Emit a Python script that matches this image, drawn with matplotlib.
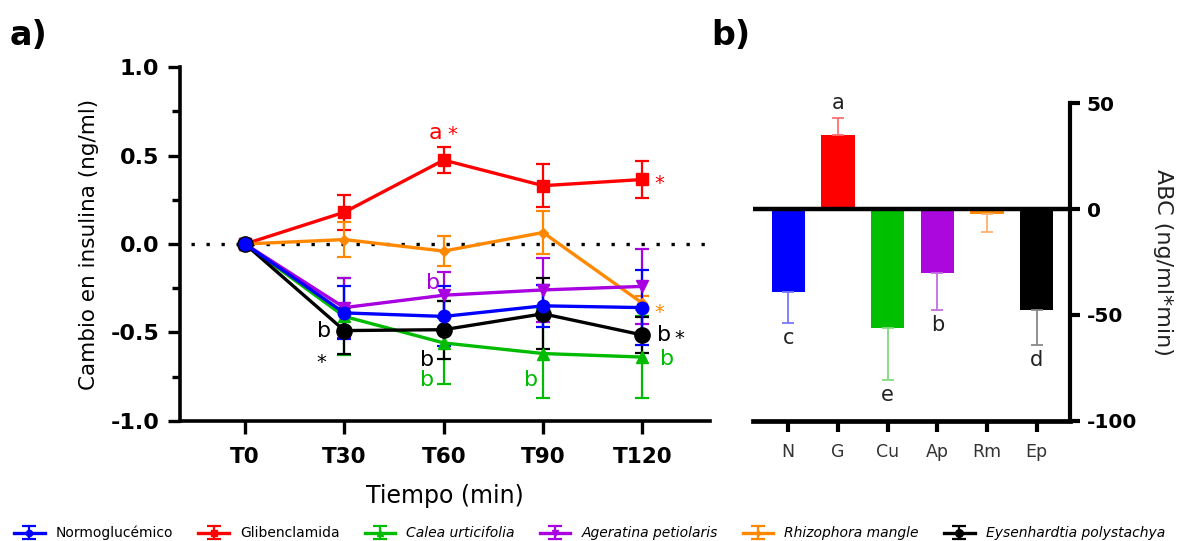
import matplotlib
matplotlib.use("Agg")
import matplotlib.pyplot as plt
from matplotlib.ticker import MultipleLocator

BLUE = "#0000ff"; RED = "#ff0000"; GREEN = "#00bb00"; PURPLE = "#a800e0"
ORANGE = "#ff8800"; BLACK = "#000000"

# ---- panel a data (mean change in insulin, ng/ml; SEM) ----
times = ["T0", "T30", "T60", "T90", "T120"]
normo = [0, -0.39, -0.41, -0.35, -0.36]
normo_se = [0, 0.15, 0.17, 0.12, 0.21]
glib = [0, 0.18, 0.475, 0.33, 0.365]
glib_se = [0, 0.10, 0.075, 0.12, 0.105]
calea = [0, -0.41, -0.56, -0.62, -0.64]
calea_se = [0, 0.22, 0.235, 0.25, 0.23]
ager = [0, -0.36, -0.29, -0.26, -0.24]
ager_se = [0, 0.17, 0.13, 0.18, 0.21]
rhizo = [0, 0.025, -0.04, 0.065, -0.335]
rhizo_se = [0, 0.10, 0.085, 0.12, 0.04]
eysen = [0, -0.49, -0.485, -0.395, -0.515]
eysen_se = [0, 0.13, 0.165, 0.20, 0.10]

# ---- panel b data (area under curve) ----
groups = ["N", "G", "Cu", "Ap", "Rm", "Ep"]
abc = [-39.4, 35.0, -56.1, -30.4, -2.5, -47.6]
abc_err = [14.5, 8.3, 24.7, 17.2, 8.2, 16.7]
abc_letters = ["c", "a", "e", "b", "", "d"]

fig = plt.figure(figsize=(11.79, 5.41), dpi=100)

# ================= panel a =================
ax = fig.add_axes([0.1527, 0.2224, 0.4495, 0.6532])
x = list(range(len(times)))
ax.axhline(0, xmin=0.02, xmax=1, color="black", lw=2.4, ls=(0, (1, 3.5)), zorder=1)

series = [
    ("Glibenclamida", glib, glib_se, RED, "s", 8),
    ("Rhizophora mangle", rhizo, rhizo_se, ORANGE, "D", 5),
    ("Calea urticifolia", calea, calea_se, GREEN, "^", 8),
    ("Ageratina petiolaris", ager, ager_se, PURPLE, "v", 8),
    ("Eysenhardtia polystachya", eysen, eysen_se, BLACK, "o", 11),
    ("Normoglucémico", normo, normo_se, BLUE, "o", 9),
]
handles = {}
for name, y, se, c, m, ms in series:
    h = ax.errorbar(x, y, yerr=se, color=c, marker=m, ms=ms, lw=2.4,
                    elinewidth=1.6, capsize=5, capthick=1.6, zorder=3)
    handles[name] = h

ax.set_xlim(-0.654, 4.68)
ax.set_ylim(-1.0, 1.0)
ax.yaxis.set_minor_locator(MultipleLocator(0.25))
ax.set_yticks([-1.0, -0.5, 0.0, 0.5, 1.0])
ax.set_yticklabels(["-1.0", "-0.5", "0.0", "0.5", "1.0"], fontweight="bold", fontsize=16)
ax.set_xticks(x)
ax.set_xticklabels(times, fontweight="bold", fontsize=15.5)
ax.tick_params(axis="both", which="major", length=9, width=2.4, direction="out", pad=6)
ax.tick_params(axis="y", which="minor", length=6, width=2.4)
ax.tick_params(axis="x", pad=10)
for s in ("top", "right"):
    ax.spines[s].set_visible(False)
for s in ("left", "bottom"):
    ax.spines[s].set_linewidth(2.6)
ax.set_ylabel("Cambio en insulina (ng/ml)", fontsize=15.5, labelpad=8)
ax.set_xlabel("Tiempo (min)", fontsize=17, labelpad=12)

fs = 16
fa = 14
ax.text(1.92, 0.63, "a", color=RED, fontsize=fs, ha="center", va="center")
ax.text(2.09, 0.62, "*", color=RED, fontsize=fa, ha="center", va="center")
ax.text(4.17, 0.34, "*", color=RED, fontsize=fa, ha="center", va="center")
ax.text(4.17, -0.39, "*", color=ORANGE, fontsize=fa, ha="center", va="center")
ax.text(1.89, -0.22, "b", color=PURPLE, fontsize=fs, ha="center", va="center")
ax.text(0.80, -0.495, "b", color=BLACK, fontsize=fs, ha="center", va="center")
ax.text(0.77, -0.67, "*", color=BLACK, fontsize=fa, ha="center", va="center")
ax.text(1.83, -0.655, "b", color=BLACK, fontsize=fs, ha="center", va="center")
ax.text(1.83, -0.77, "b", color=GREEN, fontsize=fs, ha="center", va="center")
ax.text(2.88, -0.77, "b", color=GREEN, fontsize=fs, ha="center", va="center")
ax.text(4.22, -0.515, "b", color=BLACK, fontsize=fs, ha="center", va="center")
ax.text(4.37, -0.535, "*", color=BLACK, fontsize=fa, ha="center", va="center")
ax.text(4.25, -0.65, "b", color=GREEN, fontsize=fs, ha="center", va="center")

# ================= panel b =================
bx = fig.add_axes([0.6387, 0.2224, 0.2689, 0.5866])
bar_cols = [BLUE, RED, "#00bf00", "#aa08dd", ORANGE, BLACK]
err_cols = ["#7777ff", "#ff6f6f", "#80dd80", "#c070e0", "#ffb070", "#888888"]
xb = list(range(len(groups)))
bx.bar(xb, abc, width=0.67, color=bar_cols, zorder=2)
for i in xb:
    lo = [0] if abc[i] > 0 else [abc_err[i]]
    hi = [abc_err[i]] if abc[i] > 0 else [0]
    bx.errorbar([i], [abc[i]], yerr=[lo, hi], fmt="none", ecolor=err_cols[i],
                elinewidth=1.3, capsize=4, capthick=1.3, zorder=3)
    if abc_letters[i]:
        off = 7 if abc[i] > 0 else -7
        ypos = abc[i] + (abc_err[i] if abc[i] > 0 else -abc_err[i]) + off
        bx.text(i, ypos, abc_letters[i], ha="center", va="center",
                fontsize=15, color="#222222")
bx.axhline(0, xmin=0.005, color="black", lw=3.2, zorder=4)
bx.set_xlim(-0.71, 5.67)
bx.set_ylim(-100, 50)
bx.set_yticks([-100, -50, 0, 50])
bx.set_yticklabels(["-100", "-50", "0", "50"], fontweight="bold", fontsize=14.5)
bx.yaxis.tick_right()
bx.yaxis.set_label_position("right")
bx.set_xticks(xb)
bx.set_xticklabels(groups, fontsize=12.5, color="#333333")
bx.tick_params(axis="y", length=7, width=3, pad=5)
bx.tick_params(axis="x", length=8, width=3, pad=8)
for s in ("top", "left"):
    bx.spines[s].set_visible(False)
bx.spines["right"].set_linewidth(3)
bx.spines["bottom"].set_linewidth(3.4)
bx.set_ylabel("ABC (ng/ml*min)", fontsize=16, rotation=270, labelpad=26, color="#222222")

# panel labels
fig.text(0.008, 0.935, "a)", fontsize=24, fontweight="bold", va="center")
fig.text(0.603, 0.935, "b)", fontsize=24, fontweight="bold", va="center")

# legend
order = ["Normoglucémico", "Glibenclamida", "Calea urticifolia",
         "Ageratina petiolaris", "Rhizophora mangle", "Eysenhardtia polystachya"]
leg = fig.legend([handles[n] for n in order], order, loc="lower center",
                 bbox_to_anchor=(0.5, -0.022), ncol=6, frameon=False, fontsize=10,
                 markerscale=0.5, handlelength=2.2, columnspacing=1.8, handletextpad=0.8)
for t in leg.get_texts()[2:]:
    t.set_style("italic")

fig.savefig("out.png", dpi=100)
